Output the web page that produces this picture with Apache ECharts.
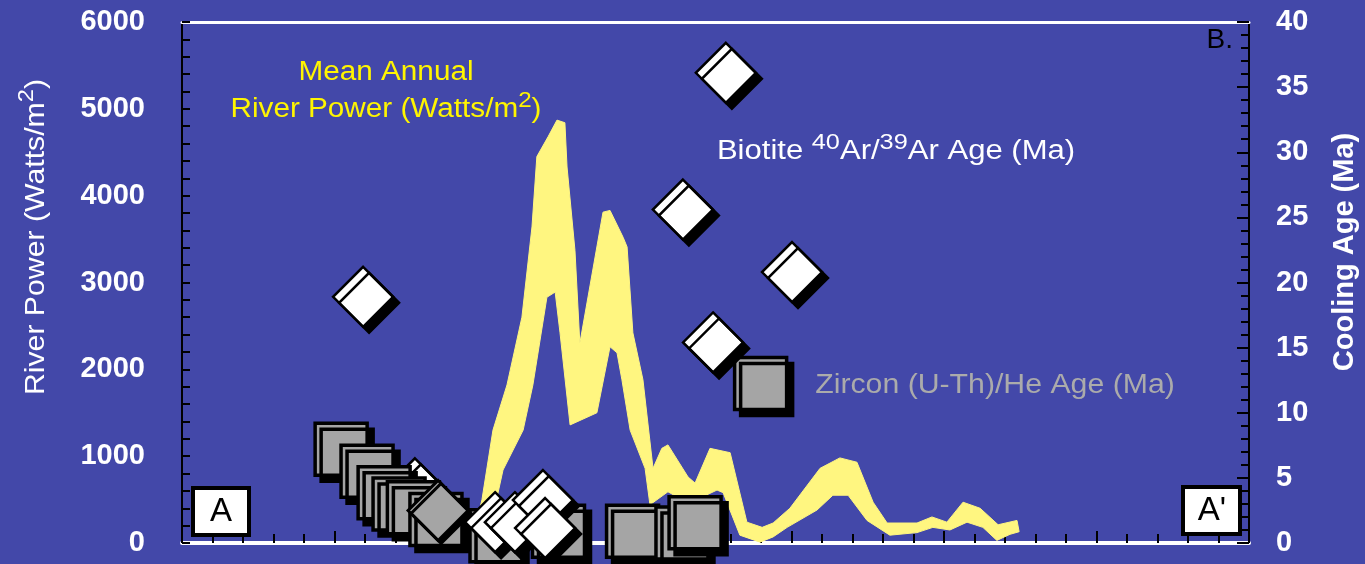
<!DOCTYPE html>
<html>
<head>
<meta charset="utf-8">
<title>River power and cooling ages along A–A'</title>
<style>
  html, body { margin: 0; padding: 0; background: #4348A9; }
  #chart { width: 1365px; height: 564px; }
</style>
<script src="https://cdn.jsdelivr.net/npm/echarts@6/dist/echarts.min.js"></script>
</head>
<body>
<div id="chart"></div>
<script>
// Profile distance (axis units, A at 0, A' at 35), ages in Ma, power in W/m²

// Biotite 40Ar/39Ar ages: [distance, age]
const biotiteAges = [
  [5.94, 18.9], [17.84, 36.1], [16.43, 25.6], [20.01, 20.8], [17.42, 15.4],
  [10.27, 1.6], [10.92, 1.6], [11.84, 3.3], [11.91, 1.15]
];
// biotite sample sitting underneath the zircon cluster
const biotiteBuried = [[7.64, 4.2]];

// Zircon (U-Th)/He ages: [distance, age]
const zirconAges = [
  [5.22, 7.2], [6.07, 5.5], [6.63, 3.85], [7.12, 3.0], [7.59, 2.7], [8.33, 1.8],
  [10.30, 0.55], [12.35, 0.9], [14.78, 0.9], [16.40, 0.77], [16.83, 1.55], [18.98, 12.25]
];
// zircon sample drawn as a diamond
const zirconDiamond = [[8.40, 2.5]];

// Mean annual river power band: upper and lower edges, [distance, W/m²]
const riverPowerUpper = [
  [9.51, 30], [9.84, 500], [10.20, 1300], [10.66, 1820], [11.15, 2600], [11.48, 3640],
  [11.64, 4450], [12.01, 4680], [12.30, 4870], [12.56, 4840], [12.63, 4330], [12.89, 3370],
  [13.05, 2300], [13.81, 3810], [14.04, 3830], [14.47, 3520], [14.60, 3410], [14.79, 2420],
  [15.12, 1880], [15.45, 860], [15.74, 1090], [15.94, 1130], [16.60, 760], [16.83, 690],
  [17.32, 1090], [17.98, 1040], [18.53, 240], [19.03, 180], [19.39, 230], [19.94, 400],
  [20.93, 860], [21.58, 980], [22.14, 930], [22.67, 470], [23.13, 230], [24.11, 230],
  [24.60, 300], [25.09, 240], [25.62, 470], [26.18, 400], [26.77, 210], [27.39, 260],
  [27.46, 130]
];
const riverPowerLower = [
  [9.51, 30], [10.10, 150], [10.53, 840], [11.19, 1300], [11.51, 1820], [11.97, 2830],
  [12.24, 2890], [12.40, 2420], [12.73, 1360], [13.61, 1500], [14.04, 2260], [14.27, 2190],
  [14.43, 1880], [14.70, 1300], [15.19, 860], [15.35, 440], [15.94, 590], [16.40, 500],
  [16.89, 500], [17.55, 610], [17.75, 580], [18.30, 90], [18.96, 10], [19.39, 70],
  [19.85, 180], [20.83, 380], [21.35, 550], [21.85, 550], [22.47, 260], [23.22, 90],
  [24.11, 120], [24.63, 180], [25.19, 150], [25.75, 240], [26.27, 180], [26.73, 30],
  [27.16, 100]
];

const BG = '#4348A9';
const FONT = "'Liberation Sans', Arial, sans-serif";

const chart = echarts.init(document.getElementById('chart'), null, { renderer: 'canvas' });

const supRich = {
  a: { lineHeight: 40 },
  s: { fontSize: 22, verticalAlign: 'top' }
};

function label(opts) {
  return Object.assign({ type: 'text', z: 100, silent: true }, opts);
}

const diamondStyle = {
  color: '#FFFFFF', borderColor: '#000000', borderWidth: 2.5, opacity: 1,
  shadowColor: '#000000', shadowBlur: 0, shadowOffsetX: 6, shadowOffsetY: 6
};

const option = {
  backgroundColor: BG,
  animation: false,
  grid: { left: 182, right: 116, top: 22, bottom: 21, containLabel: false, outerBoundsMode: 'none' },
  xAxis: [
    {
      type: 'value', min: 0, max: 35, interval: 5, position: 'bottom',
      axisLine: { show: true, onZero: false, lineStyle: { color: '#FFFFFF', width: 4 } },
      axisTick: { show: true, inside: true, length: 12, lineStyle: { color: '#000000', width: 2 } },
      minorTick: { show: true, splitNumber: 5, length: 9, lineStyle: { color: '#000000', width: 2 } },
      axisLabel: { show: false }, splitLine: { show: false }, minorSplitLine: { show: false }
    },
    {
      type: 'value', min: 0, max: 35, position: 'top',
      axisLine: { show: true, onZero: false, lineStyle: { color: '#FFFFFF', width: 3 } },
      axisTick: { show: false }, axisLabel: { show: false }, splitLine: { show: false }
    }
  ],
  yAxis: [
    {
      type: 'value', min: 0, max: 6000, interval: 1000, position: 'left',
      axisLine: { show: true, onZero: false, lineStyle: { color: '#000000', width: 2 } },
      axisTick: { show: true, inside: true, length: 8, lineStyle: { color: '#000000', width: 2 } },
      minorTick: { show: true, splitNumber: 5, length: 8, lineStyle: { color: '#000000', width: 2 } },
      axisLabel: {
        color: '#FFFFFF', fontWeight: 'bold', fontSize: 29, fontFamily: FONT, margin: 37,
        formatter: function (v) { return String(v); }
      },
      splitLine: { show: false }
    },
    {
      type: 'value', min: 0, max: 40, interval: 5, position: 'right',
      axisLine: { show: true, onZero: false, lineStyle: { color: '#000000', width: 2 } },
      axisTick: { show: true, inside: true, length: 12, lineStyle: { color: '#000000', width: 2 } },
      minorTick: { show: true, splitNumber: 5, length: 8, lineStyle: { color: '#000000', width: 2 } },
      axisLabel: {
        color: '#FFFFFF', fontWeight: 'bold', fontSize: 29, fontFamily: FONT, margin: 27,
        formatter: function (v) { return String(v); }
      },
      splitLine: { show: false }
    }
  ],
  series: [
    {
      name: 'Mean Annual River Power',
      type: 'custom', xAxisIndex: 0, yAxisIndex: 0, z: 1, silent: true, clip: false,
      data: [[0, 0]],
      renderItem: function (params, api) {
        const ring = riverPowerUpper.concat(riverPowerLower.slice().reverse());
        const pts = ring.map(function (p) { return api.coord(p); });
        return {
          type: 'polygon',
          shape: { points: pts },
          style: { fill: '#FFF680', stroke: '#FFF680', lineWidth: 1 }
        };
      }
    },
    {
      name: 'Biotite (buried)', type: 'scatter', xAxisIndex: 0, yAxisIndex: 1, z: 2, silent: true,
      symbol: 'diamond', symbolSize: 60, data: biotiteBuried, itemStyle: diamondStyle
    },
    {
      name: 'Zircon (U-Th)/He Age', type: 'scatter', xAxisIndex: 0, yAxisIndex: 1, z: 3, silent: true,
      symbol: 'rect', symbolSize: 52, data: zirconAges,
      itemStyle: {
        color: '#A5A5A5', borderColor: '#000000', borderWidth: 3.5, opacity: 1,
        shadowColor: '#000000', shadowBlur: 0, shadowOffsetX: 6, shadowOffsetY: 6
      }
    },
    {
      name: 'Zircon (diamond)', type: 'scatter', xAxisIndex: 0, yAxisIndex: 1, z: 4, silent: true,
      symbol: 'diamond', symbolSize: 60, data: zirconDiamond,
      itemStyle: {
        color: '#A5A5A5', borderColor: '#000000', borderWidth: 3, opacity: 1,
        shadowColor: '#000000', shadowBlur: 0, shadowOffsetX: 3, shadowOffsetY: 3
      }
    },
    {
      name: 'Biotite 40Ar/39Ar Age', type: 'scatter', xAxisIndex: 0, yAxisIndex: 1, z: 5, silent: true,
      symbol: 'diamond', symbolSize: 60, data: biotiteAges, itemStyle: diamondStyle
    }
  ],
  graphic: [
    // axis titles
    label({
      x: 36, y: 237, rotation: Math.PI / 2, scaleX: 1.08,
      style: {
        text: '{a|River Power (Watts/m}{s|2}{a|)}', rich: supRich,
        fill: '#FFFFFF', fontSize: 28, fontFamily: FONT, align: 'center', verticalAlign: 'middle'
      }
    }),
    label({
      x: 1345, y: 252, rotation: Math.PI / 2,
      style: {
        text: 'Cooling Age (Ma)', fill: '#FFFFFF', fontSize: 29, fontWeight: 'bold',
        fontFamily: FONT, align: 'center', verticalAlign: 'middle'
      }
    }),
    // series annotations
    label({
      x: 386, y: 73, scaleX: 1.1,
      style: {
        text: 'Mean Annual', fill: '#FFF500', fontSize: 27, fontFamily: FONT,
        align: 'center', verticalAlign: 'middle'
      }
    }),
    label({
      x: 386, y: 110, scaleX: 1.1,
      style: {
        text: '{a|River Power (Watts/m}{s|2}{a|)}', rich: supRich,
        fill: '#FFF500', fontSize: 27, fontFamily: FONT, align: 'center', verticalAlign: 'middle'
      }
    }),
    label({
      x: 896, y: 152, scaleX: 1.15,
      style: {
        text: '{a|Biotite }{s|40}{a|Ar/}{s|39}{a|Ar Age (Ma)}', rich: supRich,
        fill: '#FFFFFF', fontSize: 27, fontFamily: FONT, align: 'center', verticalAlign: 'middle'
      }
    }),
    label({
      x: 995, y: 386, scaleX: 1.12,
      style: {
        text: 'Zircon (U-Th)/He Age (Ma)', fill: '#ABABAB', fontSize: 27, fontFamily: FONT,
        align: 'center', verticalAlign: 'middle'
      }
    }),
    label({
      x: 1233, y: 40,
      style: {
        text: 'B.', fill: '#000000', fontSize: 28, fontFamily: FONT,
        align: 'right', verticalAlign: 'middle'
      }
    }),
    // profile end markers
    {
      type: 'rect', z: 100, silent: true,
      shape: { x: 193, y: 488, width: 56, height: 47 },
      style: { fill: '#FFFFFF', stroke: '#000000', lineWidth: 4 }
    },
    label({
      x: 221, y: 512,
      style: { text: 'A', fill: '#000000', fontSize: 33, fontFamily: FONT, align: 'center', verticalAlign: 'middle' }
    }),
    {
      type: 'rect', z: 100, silent: true,
      shape: { x: 1183, y: 487, width: 57, height: 47 },
      style: { fill: '#FFFFFF', stroke: '#000000', lineWidth: 4 }
    },
    label({
      x: 1212, y: 511,
      style: { text: "A'", fill: '#000000', fontSize: 33, fontFamily: FONT, align: 'center', verticalAlign: 'middle' }
    })
  ]
};

chart.setOption(option);
</script>
</body>
</html>
